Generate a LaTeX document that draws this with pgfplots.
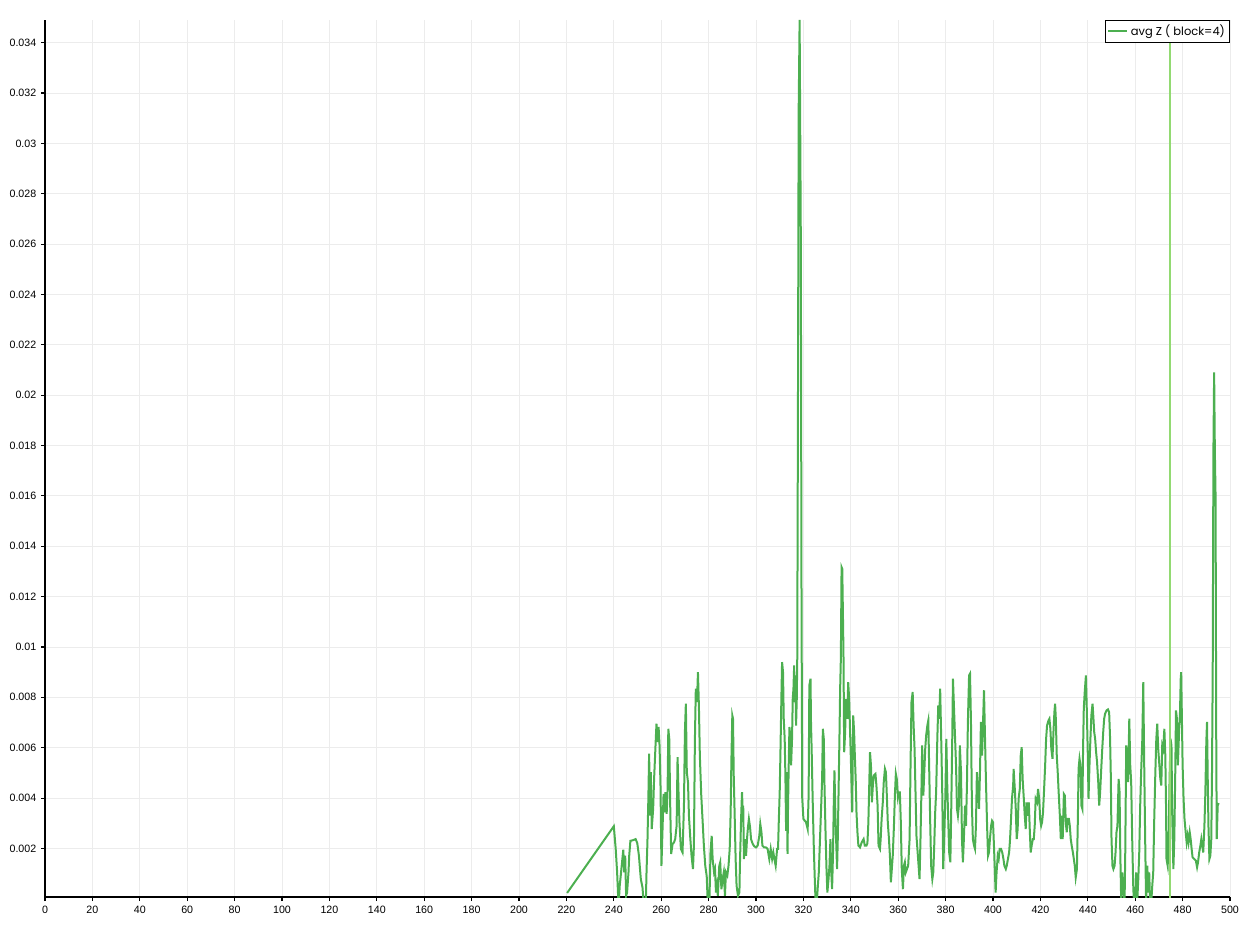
\documentclass[border=0pt]{standalone}
\usepackage{pgfplots}
\pgfplotsset{compat=1.18}
\usepackage{fontspec}
\setmainfont{Liberation Sans}
\newfontfamily\legfont{Poppins}
\definecolor{maingreen}{RGB}{76,175,80}
\definecolor{lightgreen}{RGB}{146,218,114}
\definecolor{gridgray}{RGB}{236,236,236}
\begin{document}
\begin{tikzpicture}
\begin{axis}[
  scale only axis,
  width=888.75pt, height=657.75pt,
  xmin=0, xmax=500, ymin=0.00007, ymax=0.0349,
  axis lines=left,
  axis line style={-, black, line width=0.9pt},
  xtick={0,20,40,60,80,100,120,140,160,180,200,220,240,260,280,300,320,340,360,380,400,420,440,460,480,500},
  ytick={0.002,0.004,0.006,0.008,0.010,0.012,0.014,0.016,0.018,0.020,0.022,0.024,0.026,0.028,0.030,0.032,0.034},
  scaled y ticks=false,
  yticklabel style={/pgf/number format/fixed, /pgf/number format/precision=3},
  /pgf/number format/assume math mode=true,
  tick label style={font=\fontsize{8}{9}\selectfont},
  tick align=outside, major tick length=3pt,
  tick style={black, line width=0.8pt},
  grid=major, grid style={gridgray, line width=0.7pt},
  legend style={at={(1,1)}, anchor=north east, draw=black, line width=0.6pt,
    font=\legfont\fontsize{8.6}{10}\selectfont, inner sep=1.5pt, row sep=0pt},
  legend cell align=left,
  legend image code/.code={\draw[#1, line width=1.5pt] (0cm,0cm) -- (0.5cm,0cm);},
]
\coordinate (ll) at (rel axis cs:0,0);
\coordinate (ur) at (rel axis cs:1,1);
\addplot[maingreen, line width=1.5pt, line join=miter] table[row sep=\\] {
x y\\
220.3 0.23e-3\\ 240.0 2.88e-3\\ 240.8 1.98e-3\\ 241.4 1.05e-3\\ 242.0 -0.3e-3\\ 242.5 0.52e-3\\
243.2 1.18e-3\\ 244.0 1.95e-3\\ 244.4 1.05e-3\\ 244.8 1.71e-3\\ 245.2 0.12e-3\\ 245.6 0.25e-3\\
246.2 1.05e-3\\ 246.5 1.71e-3\\ 247.0 2.30e-3\\ 248.2 2.33e-3\\ 249.2 2.37e-3\\ 249.9 2.21e-3\\
250.6 1.71e-3\\ 251.4 0.78e-3\\ 252.1 0.45e-3\\ 252.7 -0.3e-3\\ 253.5 -0.2e-3\\ 253.8 1.05e-3\\
254.2 2.30e-3\\ 254.6 4.10e-3\\ 254.9 5.76e-3\\ 255.3 3.30e-3\\ 255.6 5.03e-3\\ 256.0 2.77e-3\\
256.6 3.57e-3\\ 257.0 4.76e-3\\ 257.6 6.09e-3\\ 258.0 6.95e-3\\ 258.5 6.22e-3\\ 258.9 6.82e-3\\
259.3 6.09e-3\\ 259.7 4.50e-3\\ 260.1 1.31e-3\\ 260.6 2.90e-3\\ 261.0 4.16e-3\\ 261.4 3.43e-3\\
261.8 4.23e-3\\ 262.3 3.37e-3\\ 262.7 4.36e-3\\ 263.0 6.75e-3\\ 263.4 6.35e-3\\ 263.8 3.70e-3\\
264.2 1.78e-3\\ 264.8 2.18e-3\\ 265.4 2.24e-3\\ 265.9 2.37e-3\\ 266.5 2.90e-3\\ 266.9 5.62e-3\\
267.3 4.23e-3\\ 267.7 3.04e-3\\ 268.3 1.98e-3\\ 269.0 1.84e-3\\ 269.6 3.70e-3\\ 270.0 6.62e-3\\
270.4 7.75e-3\\ 270.8 5.03e-3\\ 271.3 4.63e-3\\ 271.7 3.30e-3\\ 272.3 2.37e-3\\ 272.8 1.71e-3\\
273.4 1.18e-3\\ 273.8 2.11e-3\\ 274.2 6.22e-3\\ 274.6 8.34e-3\\ 275.1 7.81e-3\\ 275.5 9.00e-3\\
275.9 7.68e-3\\ 276.3 5.69e-3\\ 276.9 4.10e-3\\ 277.5 3.04e-3\\ 278.0 2.11e-3\\ 278.6 1.30e-3\\
279.2 0.90e-3\\ 279.7 -0.3e-3\\ 280.3 -0.3e-3\\ 280.8 1.84e-3\\ 281.3 2.50e-3\\ 281.7 1.58e-3\\
282.3 1.05e-3\\ 282.7 1.18e-3\\ 283.1 0.25e-3\\ 283.5 0.52e-3\\ 283.9 0.12e-3\\ 284.5 1.31e-3\\
284.9 1.45e-3\\ 285.4 0.38e-3\\ 285.9 0.78e-3\\ 286.4 1.05e-3\\ 286.9 0.12e-3\\ 287.3 1.05e-3\\
287.9 0.92e-3\\ 288.4 1.31e-3\\ 288.9 1.98e-3\\ 289.3 3.43e-3\\ 289.6 5.42e-3\\ 290.0 7.28e-3\\
290.3 7.15e-3\\ 290.6 4.90e-3\\ 291.0 3.30e-3\\ 291.4 1.58e-3\\ 291.8 0.52e-3\\ 292.4 0.12e-3\\
293.0 0.25e-3\\ 293.2 1.31e-3\\ 293.7 3.17e-3\\ 294.1 4.23e-3\\ 294.4 3.43e-3\\ 294.6 3.70e-3\\
294.9 1.58e-3\\ 295.4 2.37e-3\\ 295.8 1.71e-3\\ 296.2 2.37e-3\\ 296.6 2.84e-3\\ 297.0 3.17e-3\\
297.5 2.84e-3\\ 297.9 2.37e-3\\ 298.6 2.18e-3\\ 299.3 2.08e-3\\ 300.0 2.04e-3\\ 300.7 2.11e-3\\
301.4 2.50e-3\\ 301.8 2.97e-3\\ 302.3 2.64e-3\\ 302.7 2.11e-3\\ 303.4 2.04e-3\\ 304.2 2.04e-3\\
304.9 1.98e-3\\ 305.6 1.58e-3\\ 306.2 1.98e-3\\ 306.8 1.58e-3\\ 307.3 1.84e-3\\ 307.9 1.51e-3\\
308.3 1.31e-3\\ 308.9 1.98e-3\\ 309.3 1.98e-3\\ 309.6 3.04e-3\\ 310.0 4.23e-3\\ 310.3 5.76e-3\\
310.7 7.94e-3\\ 311.0 9.40e-3\\ 311.4 9.00e-3\\ 311.7 7.15e-3\\ 312.1 6.35e-3\\ 312.4 4.90e-3\\
312.7 2.70e-3\\ 312.9 5.03e-3\\ 313.3 1.78e-3\\ 313.5 3.57e-3\\ 313.8 5.30e-3\\ 314.1 6.82e-3\\
314.4 6.49e-3\\ 314.8 5.30e-3\\ 315.2 6.35e-3\\ 315.5 7.94e-3\\ 315.8 8.34e-3\\ 316.1 9.27e-3\\
316.3 7.81e-3\\ 316.6 8.87e-3\\ 316.9 6.88e-3\\ 317.2 7.94e-3\\ 317.4 9.50e-3\\ 317.7 19.5e-3\\
318.0 31.3e-3\\ 318.4 34.9e-3\\ 318.9 26.3e-3\\ 319.2 12.0e-3\\ 319.5 4.0e-3\\ 320.0 3.17e-3\\
320.6 3.10e-3\\ 321.1 3.04e-3\\ 321.8 2.77e-3\\ 322.2 4.10e-3\\ 322.5 8.47e-3\\ 323.0 8.74e-3\\
323.2 7.02e-3\\ 323.5 5.82e-3\\ 323.9 3.97e-3\\ 324.4 1.98e-3\\ 324.8 0.78e-3\\ 325.2 -0.3e-3\\
325.6 -0.2e-3\\ 326.1 0.52e-3\\ 326.5 1.05e-3\\ 327.0 2.37e-3\\ 327.5 3.70e-3\\ 327.9 4.76e-3\\
328.2 6.75e-3\\ 328.6 6.35e-3\\ 328.9 4.50e-3\\ 329.3 2.77e-3\\ 329.7 1.31e-3\\ 330.1 0.25e-3\\
330.6 0.78e-3\\ 331.0 1.31e-3\\ 331.4 2.37e-3\\ 331.7 1.18e-3\\ 332.1 0.38e-3\\ 332.5 1.84e-3\\
332.8 3.70e-3\\ 333.1 5.10e-3\\ 333.5 3.30e-3\\ 333.8 2.37e-3\\ 334.2 1.18e-3\\ 334.5 2.37e-3\\
334.9 4.63e-3\\ 335.2 6.35e-3\\ 335.5 8.34e-3\\ 335.8 9.54e-3\\ 336.1 13.17e-3\\ 336.4 13.1e-3\\
336.9 9.80e-3\\ 337.2 5.82e-3\\ 337.6 6.62e-3\\ 338.0 7.94e-3\\ 338.5 7.15e-3\\ 338.9 8.60e-3\\
339.3 7.94e-3\\ 339.7 6.62e-3\\ 340.1 5.30e-3\\ 340.6 3.43e-3\\ 341.0 7.28e-3\\ 341.4 6.62e-3\\
341.7 5.69e-3\\ 342.1 4.63e-3\\ 342.4 3.43e-3\\ 342.8 2.64e-3\\ 343.2 2.11e-3\\ 343.9 2.04e-3\\
344.6 2.24e-3\\ 345.4 2.37e-3\\ 345.9 2.11e-3\\ 346.6 2.11e-3\\ 347.0 2.20e-3\\ 347.4 3.00e-3\\
347.7 4.20e-3\\ 348.1 5.82e-3\\ 348.5 5.30e-3\\ 348.9 3.83e-3\\ 349.3 4.50e-3\\ 349.7 4.90e-3\\
350.4 4.96e-3\\ 350.8 4.50e-3\\ 351.3 3.70e-3\\ 351.7 2.11e-3\\ 352.3 1.98e-3\\ 352.6 2.37e-3\\
353.0 3.17e-3\\ 353.5 3.83e-3\\ 353.9 4.63e-3\\ 354.4 5.16e-3\\ 354.8 5.03e-3\\ 355.2 4.10e-3\\
355.6 3.04e-3\\ 356.1 2.37e-3\\ 356.5 1.71e-3\\ 356.9 0.65e-3\\ 357.3 1.18e-3\\ 357.7 1.71e-3\\
358.2 2.90e-3\\ 358.6 4.10e-3\\ 359.0 4.96e-3\\ 359.4 4.76e-3\\ 359.9 4.03e-3\\ 360.3 4.23e-3\\
360.7 4.23e-3\\ 361.1 3.04e-3\\ 361.5 1.18e-3\\ 362.0 0.38e-3\\ 362.4 1.31e-3\\ 362.8 1.45e-3\\
363.2 1.05e-3\\ 363.7 1.18e-3\\ 364.2 1.31e-3\\ 364.8 2.37e-3\\ 365.2 5.30e-3\\ 365.6 7.81e-3\\
366.1 8.21e-3\\ 366.5 6.88e-3\\ 366.9 5.96e-3\\ 367.3 4.23e-3\\ 367.7 2.50e-3\\ 368.2 1.84e-3\\
368.6 1.31e-3\\ 369.0 0.78e-3\\ 369.4 2.37e-3\\ 369.9 4.76e-3\\ 370.1 6.09e-3\\ 370.6 4.10e-3\\
371.0 5.03e-3\\ 371.4 5.96e-3\\ 371.8 6.49e-3\\ 372.3 6.88e-3\\ 372.7 7.08e-3\\ 373.1 5.03e-3\\
373.5 3.04e-3\\ 373.9 1.31e-3\\ 374.4 0.78e-3\\ 374.8 1.05e-3\\ 375.2 2.11e-3\\ 375.6 3.43e-3\\
376.0 4.23e-3\\ 376.5 6.35e-3\\ 376.9 7.68e-3\\ 377.3 7.15e-3\\ 377.7 8.34e-3\\ 378.2 6.09e-3\\
378.6 4.10e-3\\ 379.0 1.18e-3\\ 379.4 2.37e-3\\ 379.9 4.10e-3\\ 380.3 6.35e-3\\ 380.7 4.50e-3\\
381.1 3.17e-3\\ 381.5 1.84e-3\\ 382.0 1.45e-3\\ 382.4 3.70e-3\\ 382.8 6.35e-3\\ 383.1 8.74e-3\\
383.5 7.68e-3\\ 383.9 6.62e-3\\ 384.4 5.30e-3\\ 384.8 3.57e-3\\ 385.2 3.30e-3\\ 385.6 3.70e-3\\
386.0 6.09e-3\\ 386.5 5.03e-3\\ 386.9 2.37e-3\\ 387.3 1.45e-3\\ 387.7 2.37e-3\\ 388.2 3.70e-3\\
388.6 2.90e-3\\ 389.0 4.50e-3\\ 389.4 7.02e-3\\ 389.9 8.87e-3\\ 390.3 8.94e-3\\ 390.7 7.02e-3\\
391.1 3.70e-3\\ 391.5 2.37e-3\\ 392.0 2.11e-3\\ 392.4 1.98e-3\\ 392.8 2.90e-3\\ 393.2 5.03e-3\\
393.7 4.36e-3\\ 394.1 3.57e-3\\ 394.5 5.03e-3\\ 394.9 7.02e-3\\ 395.4 5.69e-3\\ 395.8 7.02e-3\\
396.2 8.28e-3\\ 396.6 6.49e-3\\ 397.0 4.76e-3\\ 397.5 2.90e-3\\ 397.9 1.71e-3\\ 398.3 1.84e-3\\
398.7 2.37e-3\\ 399.2 2.90e-3\\ 399.6 3.10e-3\\ 400.0 3.04e-3\\ 400.4 2.11e-3\\ 400.8 1.05e-3\\
401.1 0.25e-3\\ 401.5 1.05e-3\\ 402.0 1.71e-3\\ 402.4 1.58e-3\\ 402.8 1.98e-3\\ 403.4 1.98e-3\\
403.9 1.84e-3\\ 404.4 1.58e-3\\ 404.8 1.31e-3\\ 405.4 1.18e-3\\ 405.8 1.31e-3\\ 406.3 1.58e-3\\
406.8 1.84e-3\\ 407.2 2.37e-3\\ 407.6 3.17e-3\\ 408.0 3.97e-3\\ 408.5 4.50e-3\\ 408.7 5.16e-3\\
409.2 4.36e-3\\ 409.6 3.57e-3\\ 410.0 2.37e-3\\ 410.4 2.77e-3\\ 410.8 3.97e-3\\ 411.3 4.36e-3\\
411.7 5.69e-3\\ 412.1 6.02e-3\\ 412.5 4.76e-3\\ 413.0 3.97e-3\\ 413.4 3.30e-3\\ 413.8 2.77e-3\\
414.2 3.83e-3\\ 414.6 3.30e-3\\ 415.1 3.83e-3\\ 415.5 2.77e-3\\ 415.9 1.84e-3\\ 416.3 2.11e-3\\
416.8 2.37e-3\\ 417.2 2.37e-3\\ 417.6 2.90e-3\\ 418.0 3.97e-3\\ 418.6 3.83e-3\\ 419.0 4.36e-3\\
419.5 3.97e-3\\ 419.9 3.17e-3\\ 420.3 2.90e-3\\ 420.7 3.04e-3\\ 421.1 3.43e-3\\ 421.5 4.23e-3\\
422.0 5.30e-3\\ 422.4 6.35e-3\\ 422.8 6.88e-3\\ 423.4 7.08e-3\\ 423.8 7.15e-3\\ 424.2 6.75e-3\\
424.6 5.96e-3\\ 425.1 5.56e-3\\ 425.5 6.62e-3\\ 425.9 7.41e-3\\ 426.2 7.75e-3\\ 426.5 7.15e-3\\
426.9 5.69e-3\\ 427.3 5.03e-3\\ 427.7 4.23e-3\\ 428.2 3.30e-3\\ 428.6 2.37e-3\\ 429.0 3.30e-3\\
429.4 2.37e-3\\ 429.9 4.16e-3\\ 430.3 4.10e-3\\ 430.7 3.04e-3\\ 431.1 2.64e-3\\ 431.5 3.17e-3\\
432.0 3.17e-3\\ 432.4 2.90e-3\\ 432.8 2.37e-3\\ 433.2 2.11e-3\\ 433.7 1.84e-3\\ 434.1 1.58e-3\\
434.5 1.31e-3\\ 434.9 0.85e-3\\ 435.4 1.18e-3\\ 435.8 3.17e-3\\ 436.1 5.16e-3\\ 436.5 5.56e-3\\
436.9 5.30e-3\\ 437.3 3.70e-3\\ 437.7 3.57e-3\\ 438.0 5.96e-3\\ 438.3 7.55e-3\\ 438.7 8.21e-3\\
439.2 8.87e-3\\ 439.6 7.41e-3\\ 440.0 5.69e-3\\ 440.3 3.97e-3\\ 440.7 5.30e-3\\ 441.1 6.35e-3\\
441.5 7.28e-3\\ 442.0 7.75e-3\\ 442.3 7.28e-3\\ 442.7 6.62e-3\\ 443.1 6.35e-3\\ 443.5 5.82e-3\\
443.9 5.43e-3\\ 444.4 4.63e-3\\ 444.8 3.70e-3\\ 445.2 4.23e-3\\ 445.6 5.03e-3\\ 446.1 5.96e-3\\
446.5 6.62e-3\\ 446.9 7.15e-3\\ 447.3 7.35e-3\\ 447.9 7.48e-3\\ 448.5 7.52e-3\\ 449.0 7.41e-3\\
449.4 6.35e-3\\ 449.7 4.90e-3\\ 450.0 2.37e-3\\ 450.4 1.31e-3\\ 450.8 1.18e-3\\ 451.3 1.31e-3\\
451.7 1.84e-3\\ 452.1 2.64e-3\\ 452.5 2.90e-3\\ 453.0 4.76e-3\\ 453.4 4.23e-3\\ 453.7 1.84e-3\\
454.1 -0.2e-3\\ 454.5 1.05e-3\\ 455.0 0.38e-3\\ 455.5 -0.2e-3\\ 455.8 1.84e-3\\ 456.2 6.09e-3\\
456.6 5.82e-3\\ 457.0 4.63e-3\\ 457.5 7.15e-3\\ 457.9 5.30e-3\\ 458.3 4.63e-3\\ 458.7 2.50e-3\\
459.2 0.38e-3\\ 459.6 -0.3e-3\\ 460.0 -0.3e-3\\ 460.4 1.05e-3\\ 460.8 -0.2e-3\\ 461.3 0.78e-3\\
461.7 1.84e-3\\ 462.1 3.70e-3\\ 462.5 5.03e-3\\ 463.0 6.35e-3\\ 463.4 8.60e-3\\ 463.8 5.30e-3\\
464.2 2.37e-3\\ 464.6 -0.2e-3\\ 465.1 1.31e-3\\ 465.5 0.25e-3\\ 465.9 1.05e-3\\ 466.3 -0.2e-3\\
466.8 -0.1e-3\\ 467.2 0.52e-3\\ 467.6 1.05e-3\\ 468.0 3.04e-3\\ 468.5 5.03e-3\\ 468.9 6.35e-3\\
469.3 6.95e-3\\ 469.7 5.96e-3\\ 470.2 5.30e-3\\ 470.6 4.76e-3\\ 471.0 4.50e-3\\ 471.4 6.09e-3\\
471.8 5.96e-3\\ 472.3 6.75e-3\\ 472.7 5.69e-3\\ 473.0 3.70e-3\\ 473.2 1.58e-3\\ 473.7 1.31e-3\\
474.1 2.37e-3\\ 474.5 4.76e-3\\ 474.9 6.35e-3\\ 475.3 6.09e-3\\ 475.6 3.43e-3\\ 476.1 1.18e-3\\
476.5 2.37e-3\\ 476.9 5.03e-3\\ 477.2 7.48e-3\\ 477.6 7.15e-3\\ 478.0 5.30e-3\\ 478.5 6.62e-3\\
478.9 7.41e-3\\ 479.2 8.74e-3\\ 479.4 9.00e-3\\ 479.7 7.15e-3\\ 480.0 5.30e-3\\ 480.4 3.97e-3\\
480.8 3.17e-3\\ 481.3 2.64e-3\\ 481.7 2.24e-3\\ 482.1 2.50e-3\\ 482.5 2.24e-3\\ 483.0 2.64e-3\\
483.4 2.37e-3\\ 483.8 1.98e-3\\ 484.2 1.65e-3\\ 484.9 1.58e-3\\ 485.6 1.51e-3\\ 486.1 1.25e-3\\
486.5 1.45e-3\\ 487.0 1.84e-3\\ 487.5 2.11e-3\\ 487.9 2.37e-3\\ 488.3 2.11e-3\\ 488.7 1.84e-3\\
489.2 2.90e-3\\ 489.6 4.23e-3\\ 490.0 6.22e-3\\ 490.3 7.02e-3\\ 490.6 4.76e-3\\ 490.9 2.90e-3\\
491.3 1.58e-3\\ 491.7 1.71e-3\\ 492.1 2.37e-3\\ 492.4 5.03e-3\\ 492.7 9.00e-3\\ 493.0 17.8e-3\\
493.3 20.9e-3\\ 493.6 17.8e-3\\ 493.9 16.0e-3\\ 494.2 6.00e-3\\ 494.4 2.37e-3\\ 494.8 3.70e-3\\
495.2 3.80e-3\\
};
\addlegendentry{avg Z ( block=4)}
\addplot[lightgreen, line width=1.5pt, forget plot] coordinates {(474.8,0) (474.8,0.0349)};
\end{axis}
\pgfresetboundingbox
\path[use as bounding box] ([shift={(-33.75pt,-20.25pt)}]ll) rectangle ([shift={(15.75pt,15pt)}]ur);
\end{tikzpicture}
\end{document}
